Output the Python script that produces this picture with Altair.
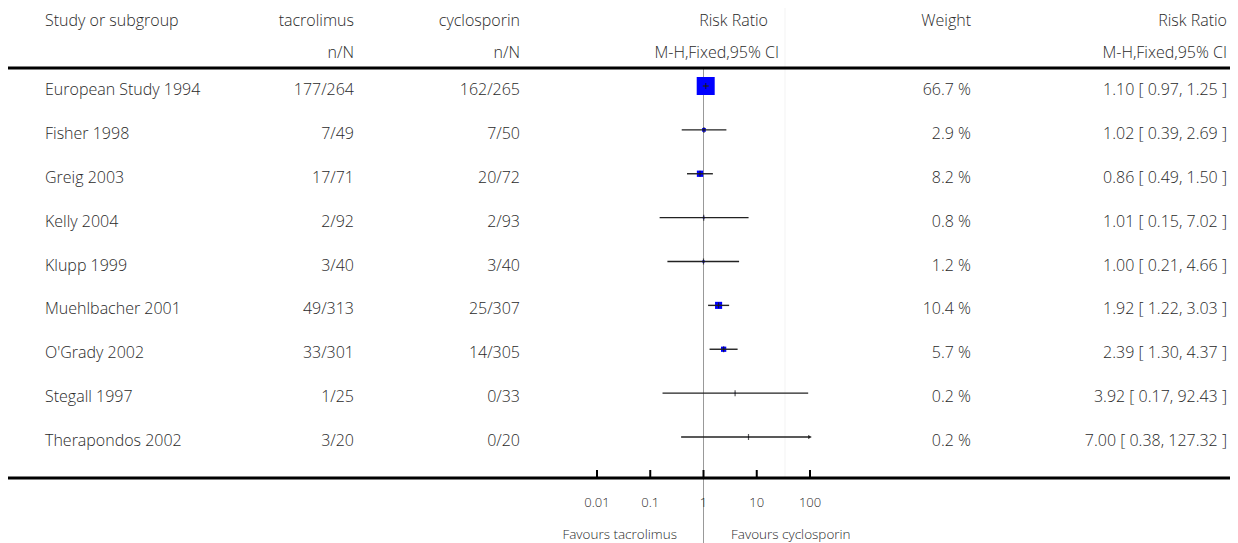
import altair as alt
import pandas as pd

# ---- data ----
studies = ["European Study 1994", "Fisher 1998", "Greig 2003", "Kelly 2004", "Klupp 1999",
           "Muehlbacher 2001", "O'Grady 2002", "Stegall 1997", "Therapondos 2002"]
tac_events = [177, 7, 17, 2, 3, 49, 33, 1, 3]
tac_total = [264, 49, 71, 92, 40, 313, 301, 25, 20]
cyc_events = [162, 7, 20, 2, 3, 25, 14, 0, 0]
cyc_total = [265, 50, 72, 93, 40, 307, 305, 33, 20]
rr = [1.10, 1.02, 0.86, 1.01, 1.00, 1.92, 2.39, 3.92, 7.00]
ci_low = [0.97, 0.39, 0.49, 0.15, 0.21, 1.22, 1.30, 0.17, 0.38]
ci_high = [1.25, 2.69, 1.50, 7.02, 4.66, 3.03, 4.37, 92.43, 127.32]
weight = [66.7, 2.9, 8.2, 0.8, 1.2, 10.4, 5.7, 0.2, 0.2]

tick_values = [0.01, 0.1, 1, 10, 100]
tick_labels = ["0.01", "0.1", "1", "10", "100"]
favours_left = "Favours tacrolimus"
favours_right = "Favours cyclosporin"

AXIS_MIN, AXIS_MAX = 0.01, 100

df = pd.DataFrame({
    "study": studies,
    "tac": [f"{e}/{n}" for e, n in zip(tac_events, tac_total)],
    "cyc": [f"{e}/{n}" for e, n in zip(cyc_events, cyc_total)],
    "rr": rr,
    "lo": ci_low,
    "hi": ci_high,
    "weight": weight,
})
df["lo_c"] = df["lo"].clip(lower=AXIS_MIN)
df["hi_c"] = df["hi"].clip(upper=AXIS_MAX)
df["arrow"] = df["hi"] > AXIS_MAX
df["wtxt"] = [f"{w:.1f} %" for w in weight]
df["rrtxt"] = [f"{r:.2f} [ {l:.2f}, {h:.2f} ]" for r, l, h in zip(rr, ci_low, ci_high)]

ticks = pd.DataFrame({"tick": tick_values, "label": tick_labels})

FONT = "Open Sans"
FW = 300
TXT = "#2a2a2a"
FS = 16
FS_SMALL = 13.5

xscale = alt.Scale(type="log", domain=[AXIS_MIN, AXIS_MAX], range=[589, 802])
yscale = alt.Scale(type="point", domain=studies, range=[78, 429], padding=0)
Y = alt.Y("study:N", scale=yscale, axis=None)

base = alt.Chart(df)


def label(text, x, y, align, size=FS):
    return alt.Chart(pd.DataFrame({"t": [text]})).mark_text(
        align=align, baseline="middle", font=FONT, fontWeight=FW, fontSize=size, color=TXT
    ).encode(x=alt.value(x), y=alt.value(y), text="t:N")


def col(field, x, align):
    return base.mark_text(align=align, baseline="middle", dy=4, font=FONT, fontWeight=FW,
                          fontSize=FS, color=TXT).encode(
        x=alt.value(x), y=Y, text=f"{field}:N"
    )


headers = [
    label("Study or subgroup", 37, 13, "left"),
    label("tacrolimus", 346, 13, "right"),
    label("n/N", 346, 45, "right"),
    label("cyclosporin", 512, 13, "right"),
    label("n/N", 512, 45, "right"),
    label("Risk Ratio", 760, 13, "right"),
    label("M-H,Fixed,95% CI", 771, 45, "right"),
    label("Weight", 963, 13, "right"),
    label("Risk Ratio", 1219, 13, "right"),
    label("M-H,Fixed,95% CI", 1219, 45, "right"),
]

one = pd.DataFrame({"k": [0]})

faint = alt.Chart(one).mark_rule(color="#f3f3f3", strokeWidth=1).encode(
    x=alt.value(777), y=alt.value(0), y2=alt.value(470))
null_line = alt.Chart(pd.DataFrame({"v": [1]})).mark_rule(color="#999999", strokeWidth=1).encode(
    x=alt.X("v:Q", scale=xscale, axis=None), y=alt.value(60), y2=alt.value(535))
top_line = alt.Chart(one).mark_rule(color="black", strokeWidth=3).encode(
    x=alt.value(0), x2=alt.value(1230), y=alt.value(60))
bottom_line = alt.Chart(one).mark_rule(color="black", strokeWidth=3).encode(
    x=alt.value(0), x2=alt.value(1230), y=alt.value(470))

squares = base.mark_square(color="#0000ff", opacity=1, filled=True).encode(
    x=alt.X("rr:Q", scale=xscale, axis=None), y=Y,
    size=alt.Size("weight:Q", scale=alt.Scale(domain=[0, 66.7], range=[0, 324]), legend=None))
ci = base.mark_rule(color="#222222", strokeWidth=1.4).encode(
    x=alt.X("lo_c:Q", scale=xscale, axis=None), x2="hi_c:Q", y=Y)
est = base.mark_tick(color="#111111", thickness=1.2, size=6).encode(
    x=alt.X("rr:Q", scale=xscale, axis=None), y=Y)
arrows = base.transform_filter("datum.arrow").mark_point(
    shape="triangle-right", filled=True, size=18, color="#222222", opacity=1).encode(
    x=alt.X("hi_c:Q", scale=xscale, axis=None), y=Y)

tick_marks = alt.Chart(ticks).mark_rule(color="black", strokeWidth=2).encode(
    x=alt.X("tick:Q", scale=xscale, axis=None), y=alt.value(462), y2=alt.value(470))
tick_text = alt.Chart(ticks).mark_text(baseline="middle", font=FONT, fontWeight=FW, fontSize=13,
                                       color=TXT).encode(
    x=alt.X("tick:Q", scale=xscale, axis=None), y=alt.value(495), text="label:N")

fav = [
    label(favours_left, 669, 527, "right", FS_SMALL),
    label(favours_right, 723, 527, "left", FS_SMALL),
]

cols = [
    col("study", 37, "left"),
    col("tac", 346, "right"),
    col("cyc", 512, "right"),
    col("wtxt", 963, "right"),
    col("rrtxt", 1219, "right"),
]

chart = alt.layer(
    faint, null_line, top_line, bottom_line, squares, ci, est, arrows, tick_marks, tick_text,
    *headers, *cols, *fav
).properties(width=1222, height=535, autosize="none", padding=0).configure_view(stroke=None)

chart.save("out.html", embed_options={"renderer": "svg", "actions": False})
